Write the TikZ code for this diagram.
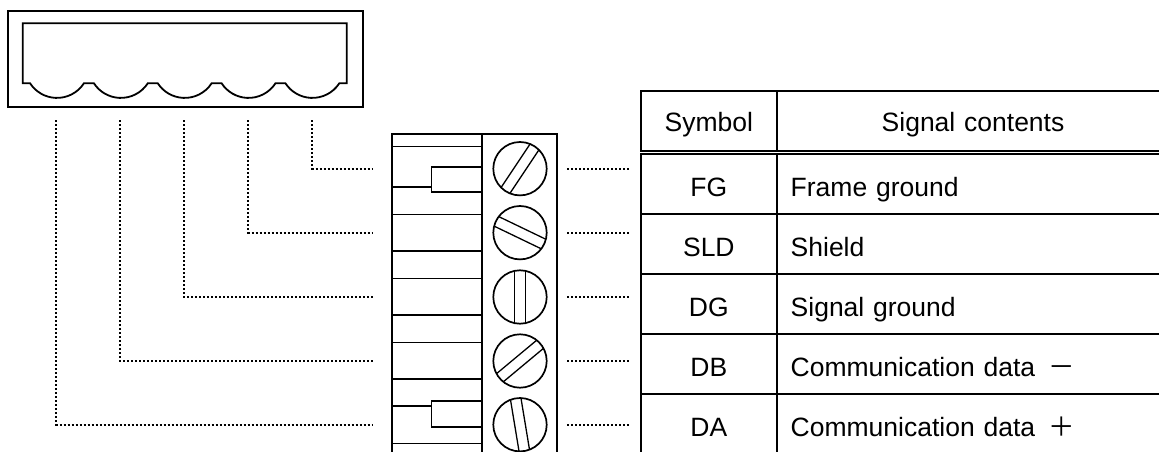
\documentclass[tikz,border=0pt]{standalone}
\usepackage{fontspec}
\setmainfont{Liberation Sans}
\newfontfamily\cjk{Noto Sans CJK JP}
\usetikzlibrary{positioning}

\begin{document}
\begin{tikzpicture}[x=1pt,y=-1pt,font=\fontsize{26.5}{30}\selectfont]
        \tikzstyle{thick line} = [line width=1.8pt]
        \tikzstyle{thin line} = [line width=1.3pt]
        \tikzstyle{leader} = [line width=1.7pt, dash pattern=on 2pt off 2pt]
        \tikzstyle{cell} = [draw, line width=2pt, inner sep=0pt, outer sep=0pt, minimum height=60pt, text height=26pt, text depth=0pt]
        \tikzstyle{symbol} = [cell, minimum width=136.3pt, align=center]
        \tikzstyle{content} = [cell, minimum width=500pt, text width=500pt, align=left]
        \tikzstyle{screw} = [draw, circle, line width=1.7pt, inner sep=0pt, outer sep=0pt, minimum size=53.4pt]
        \tikzstyle{housing} = [draw, line width=1.9pt, inner sep=0pt, outer sep=0pt, anchor=north west]
        \useasboundingbox (0,0) rectangle (1159,452);

        % connector outline
        \node[housing, minimum width=355pt, minimum height=96.3pt] (shell) at (8,11) {};
        \draw[thick line] (22.7,23.3) -- (346.7,23.3) -- (346.7,83.3) -- (339.3,83.3)
            arc[start angle=33, end angle=147, radius=32.1]
            \foreach \i in {1,...,4} { -- ++(-10,0) arc[start angle=33, end angle=147, radius=32.1] }
            -- (22.7,83.3) -- cycle;

        % terminal block
        \node[housing, minimum width=89.4pt, minimum height=340pt] (base) at (392.3,134) {};
        \node[housing, minimum width=75.3pt, minimum height=340pt, right=0pt of base.north east, anchor=north west] (head) {};
        \foreach \yy in {146.7,214.3,251,278.3,315,342.3,379,443.3}
            \draw[thin line] (392.3,\yy) -- (481.7,\yy);
        \draw[thin line] (392.3,187) -- (431.5,187);
        \draw[thin line] (392.3,406) -- (431.5,406);
        \node[housing, minimum width=50.2pt, minimum height=25.4pt] (clipa) at (431.5,166.7) {};
        \node[housing, minimum width=50.2pt, minimum height=25.4pt] (clipb) at (431.5,401.3) {};

        % screws, pins and leaders
        \foreach \nm/\px/\yy/\ang in {a/312.3/168.7/56.3,b/248.3/232.7/-25.7,c/184.3/297/90,d/120.3/361/39.8,e/56.3/424.7/99.4} {
            \node[screw] (s\nm) at (520,\yy) {};
            \begin{scope}[shift={(s\nm.center)},rotate=\ang]
                \draw[thin line] (-26.2,5.3) -- (26.2,5.3);
                \draw[thin line] (-26.2,-5.3) -- (26.2,-5.3);
            \end{scope}
            \coordinate (pin\nm) at (\px,120);
            \coordinate (end\nm) at (373,\yy);
            \coordinate (ra\nm) at (567,\yy);
            \coordinate (rb\nm) at (629,\yy);
            \draw[leader] (pin\nm) |- (end\nm);
            \draw[leader] (ra\nm) -- (rb\nm);
        }

        % table
        \node[symbol, text height=22pt, minimum height=59.7pt, anchor=north west] (sym) at (640.7,91) {Symbol};
        \node[content, right=0pt of sym, text height=22pt, minimum height=59.7pt] (con) {\hspace{104.7pt}Signal contents};
        \node[symbol, below=3pt of sym] (fg) {FG};
        \node[content, right=0pt of fg] (cfg) {\hspace{13.7pt}Frame ground};
        \node[symbol, below=0pt of fg] (sld) {SLD};
        \node[content, right=0pt of sld] (csld) {\hspace{13.7pt}Shield};
        \node[symbol, below=0pt of sld] (dg) {DG};
        \node[content, right=0pt of dg] (cdg) {\hspace{13.7pt}Signal ground};
        \node[symbol, below=0pt of dg] (db) {DB};
        \node[content, right=0pt of db] (cdb) {\hspace{13.7pt}Communication data\hspace{13pt}{\cjk －}};
        \node[symbol, below=0pt of db] (da) {DA};
        \node[content, right=0pt of da] (cda) {\hspace{13.7pt}Communication data\hspace{13pt}{\cjk ＋}};
\end{tikzpicture}
\end{document}
